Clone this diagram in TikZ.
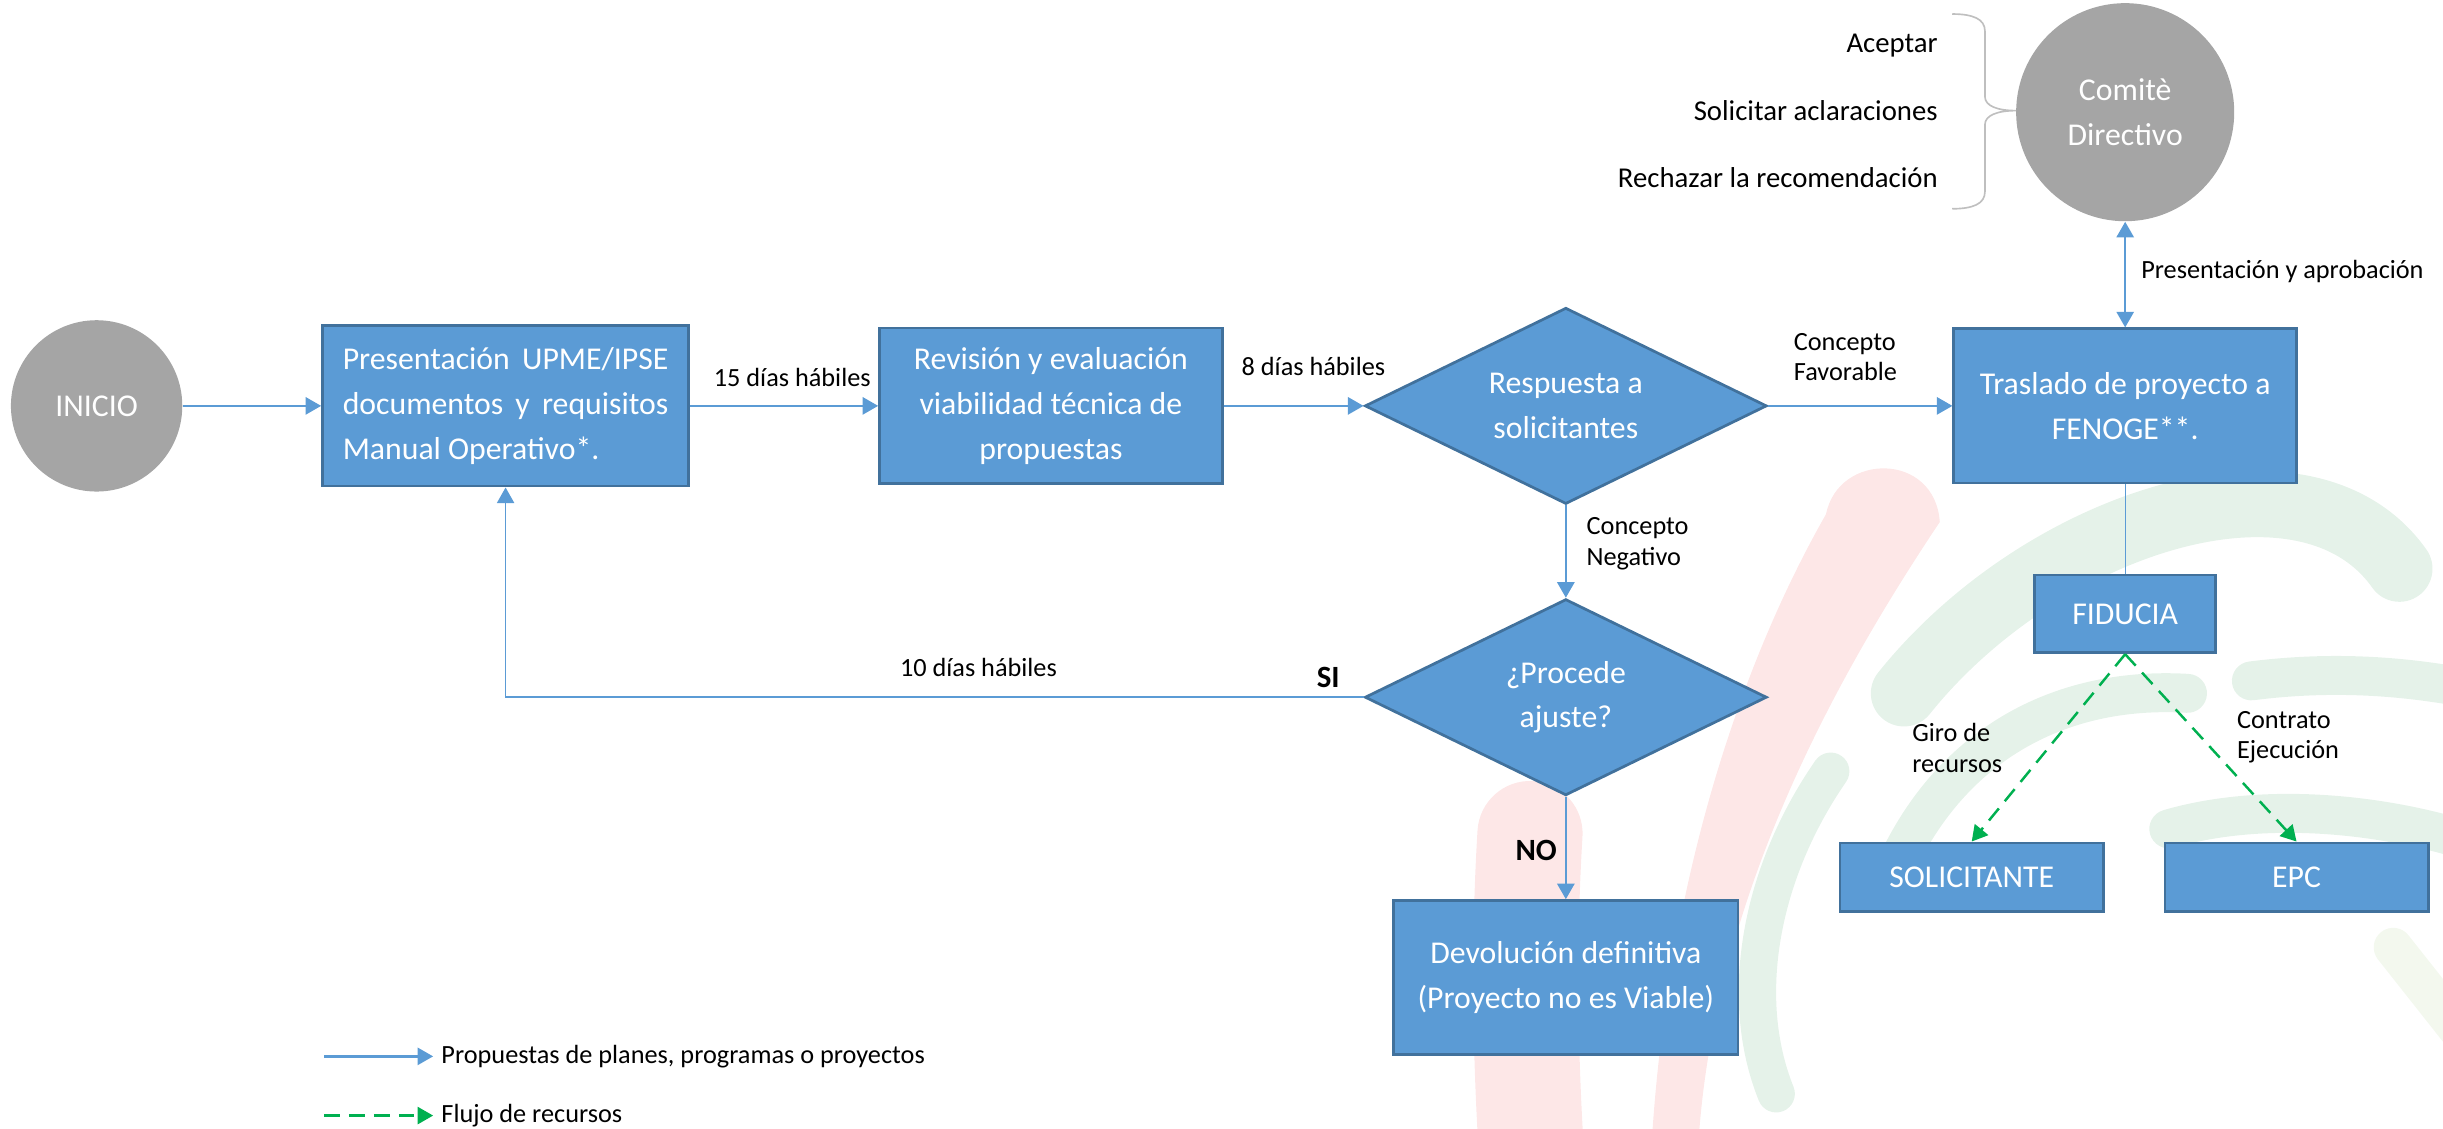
\documentclass[tikz,border=0pt]{standalone}
\usepackage{fontspec}
\setmainfont{Carlito}
\usetikzlibrary{shapes.geometric, arrows.meta}
\definecolor{boxblue}{RGB}{91,155,213}
\definecolor{boxedge}{RGB}{65,113,156}
\definecolor{circgray}{RGB}{165,165,165}
\definecolor{flowgreen}{RGB}{0,176,80}
\definecolor{bracegray}{RGB}{191,191,191}
\definecolor{wmpink}{RGB}{253,231,231}
\definecolor{wmgreen}{RGB}{229,242,233}
\definecolor{wmpale}{RGB}{243,248,238}

\begin{document}
\begin{tikzpicture}[x = 0.02cm, y = -0.02cm,
	box/.style = {draw = boxedge, fill = boxblue, line width = 1pt, text = white,
		font = \fontsize{11.6}{16.4}\selectfont, align = center, inner sep = 0pt},
	decision/.style = {box, diamond, aspect = 2.05, minimum width = 5.16cm, minimum height = 2.52cm},
	disc/.style = {circle, fill = circgray, text = white, font = \fontsize{11.6}{16.4}\selectfont,
		align = center, inner sep = 0pt},
	lbl/.style = {font = \fontsize{9.6}{11.1}\selectfont, align = left, inner sep = 0pt},
	choice/.style = {font = \fontsize{10.5}{12.6}\selectfont, anchor = east, inner sep = 0pt},
	answer/.style = {font = \bfseries\fontsize{11.3}{13.5}\selectfont, inner sep = 0pt},
	flow/.style = {draw = boxblue, line width = 0.9pt, -{Triangle[length = 2mm, width = 2.2mm]}},
	money/.style = {draw = flowgreen, line width = 0.9pt, dash pattern = on 2mm off 1.2mm,
		-{Triangle[length = 2mm, width = 2.2mm]}}]
\useasboundingbox (0, 0) rectangle (1568, 724);

% watermark
\fill[wmpink] (1172, 330) .. controls (1180, 290) and (1242, 290) .. (1245, 335) ..
	controls (1185, 425) and (1100, 570) .. (1090, 735) --
	(1060, 735) .. controls (1070, 570) and (1115, 430) .. (1172, 330) -- cycle;
\draw[wmpink, line width = 1.35cm, line cap = round] (982, 535) .. controls (978, 600) and (978, 680) .. (985, 770);
\draw[wmgreen, line width = 0.85cm, line cap = round] (1222, 445) .. controls (1310, 335) and (1480, 280) .. (1540, 365);
\draw[wmgreen, line width = 0.5cm, line cap = round] (1445, 437) .. controls (1500, 430) and (1550, 434) .. (1600, 445);
\draw[wmgreen, line width = 0.5cm, line cap = round] (1392, 532) .. controls (1450, 515) and (1530, 520) .. (1600, 545);
\draw[wmgreen, line width = 0.5cm, line cap = round] (1404, 445) .. controls (1320, 440) and (1250, 480) .. (1215, 560);
\draw[wmgreen, line width = 0.48cm, line cap = round] (1175, 495) .. controls (1130, 560) and (1115, 640) .. (1140, 702);
\draw[wmpale, line width = 0.5cm, line cap = round] (1536, 608) -- (1585, 670);

% nodes
\node[disc, minimum size = 2.2cm] (inicio) at (62, 260.5) {INICIO};
\node[box, minimum width = 4.7cm, minimum height = 2.06cm, align = left] (pres) at (324.5, 260.5)
	{\makebox[4.18cm][s]{Presentación UPME/IPSE}\\\makebox[4.18cm][s]{documentos y requisitos}\\Manual Operativo*.};
\node[box, minimum width = 4.4cm, minimum height = 2cm] (rev) at (674.5, 260.5)
	{Revisión y evaluación\\viabilidad técnica de\\propuestas};
\node[decision] (resp) at (1005, 260.5) {Respuesta a\\solicitantes};
\node[decision] (proc) at (1005, 447.5) {¿Procede\\ajuste?};
\node[box, minimum width = 4.42cm, minimum height = 1.98cm] (dev) at (1005, 627.5)
	{Devolución definitiva\\(Proyecto no es Viable)};
\node[box, minimum width = 4.4cm, minimum height = 1.98cm] (tras) at (1364, 260.5)
	{Traslado de proyecto a\\FENOGE**.};
\node[disc, minimum size = 2.8cm] (comite) at (1364, 72) {Comitè\\Directivo};
\node[box, minimum width = 2.32cm, minimum height = 1cm] (fid) at (1364, 394) {FIDUCIA};
\node[box, minimum width = 3.38cm, minimum height = 0.88cm] (sol) at (1265.5, 563) {SOLICITANTE};
\node[box, minimum width = 3.38cm, minimum height = 0.88cm] (epc) at (1474, 563) {EPC};

% brace and options
\draw[bracegray, line width = 0.6pt] (1253, 9) .. controls (1266, 9) and (1274, 12) .. (1274, 20) --
	(1274, 62) .. controls (1274, 68) and (1282, 71) .. (1294, 71) ..
	controls (1282, 71) and (1274, 74) .. (1274, 80) --
	(1274, 123) .. controls (1274, 131) and (1266, 134) .. (1253, 134);
\node[choice] (acep) at (1244, 29) {Aceptar};
\node[choice] (acla) at (1244, 71) {Solicitar aclaraciones};
\node[choice] (rech) at (1244, 114) {Rechazar la recomendación};

% connectors
\draw[flow] (inicio) -- (pres);
\draw[flow] (pres) -- (rev);
\draw[flow] (rev) -- (resp);
\draw[flow] (resp) -- (tras);
\draw[flow] (resp) -- (proc);
\draw[flow] (proc) -- (dev);
\draw[flow, line width = 0.6pt] (proc.west) -| (pres.south);
\draw[boxblue, line width = 0.5pt] (tras) -- (fid);
\draw[flow, {Triangle[length = 2mm, width = 2.2mm]}-{Triangle[length = 2mm, width = 2.2mm]}] (comite) -- (tras);
\draw[money] (fid.south) -- (sol.north);
\draw[money] (fid.south) -- (epc.north);

% labels
\node[lbl] (d15) at (508.5, 242) {15 días hábiles};
\node[lbl] (d8) at (843, 235.5) {8 días hábiles};
\node[lbl] (d10) at (628, 428.5) {10 días hábiles};
\node[lbl, anchor = west] (fav) at (1151, 229) {Concepto\\Favorable};
\node[lbl, anchor = west] (neg) at (1018, 349) {Concepto\\Negativo};
\node[lbl, anchor = west] (giro) at (1227, 480) {Giro de\\recursos};
\node[lbl, anchor = west] (contr) at (1435.5, 473) {Contrato\\Ejecución};
\node[lbl, anchor = west] (aprob) at (1374, 174) {Presentación y aprobación};
\node[answer] (si) at (852.5, 435) {SI};
\node[answer] (no) at (986, 546) {NO};

% legend
\coordinate (leg1a) at (208, 678);
\coordinate (leg2a) at (208, 716);
\node[lbl, anchor = west] (leg1) at (283, 678) {Propuestas de planes, programas o proyectos};
\node[lbl, anchor = west] (leg2) at (283, 716) {Flujo de recursos};
\draw[flow] (leg1a) -- ([xshift = -0.1cm]leg1.west);
\draw[money] (leg2a) -- ([xshift = -0.1cm]leg2.west);
\end{tikzpicture}
\end{document}
